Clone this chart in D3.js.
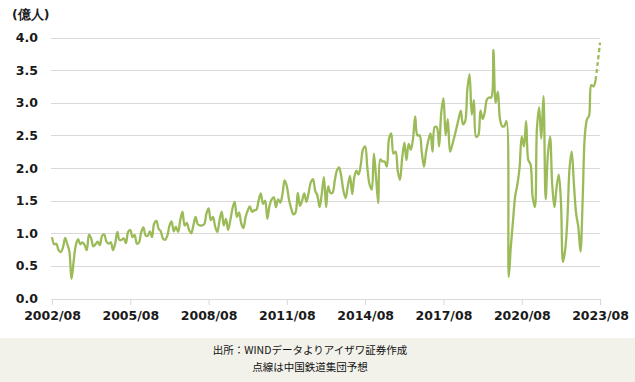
<!DOCTYPE html>
<html>
<head>
<meta charset="utf-8">
<script src="https://cdn.jsdelivr.net/npm/d3@7/dist/d3.min.js"></script>
<style>
  body { margin: 0; background: #fff; }
  text { font-family: "DejaVu Sans", Verdana, sans-serif; }
  .note { font-family: "Noto Sans CJK JP", sans-serif; }
</style>
</head>
<body>
<div id="chart"></div>
<script>
// monthly railway passengers (100m), 2002/08 .. 2023/06
var firstMonth = "2002/08";
var actual = [
  0.94, 0.83, 0.84, 0.74, 0.71, 0.78, 0.93, 0.84, 0.72, 0.30, 0.58, 0.82,
  0.91, 0.83, 0.86, 0.82, 0.74, 0.98, 0.92, 0.80, 0.83, 0.87, 0.82, 0.96,
  0.98, 0.87, 0.84, 0.86, 0.74, 0.84, 1.02, 0.90, 0.90, 0.92, 0.85, 1.02,
  1.05, 0.94, 0.97, 0.84, 0.86, 1.02, 1.09, 0.97, 0.96, 1.03, 0.94, 1.15,
  1.19, 1.07, 1.03, 0.92, 0.90, 0.96, 1.12, 1.18, 1.03, 1.10, 1.02, 1.20,
  1.33, 1.12, 1.16, 1.05, 1.00, 1.12, 1.25, 1.14, 1.12, 1.12, 1.14, 1.30,
  1.38, 1.20, 1.25, 1.10, 1.02, 1.20, 1.33, 1.12, 1.22, 1.05, 1.20, 1.38,
  1.48, 1.25, 1.32, 1.15, 1.08, 1.25, 1.35, 1.41, 1.33, 1.35, 1.36, 1.50,
  1.61, 1.45, 1.50, 1.22, 1.42, 1.52, 1.55, 1.40, 1.52, 1.47, 1.60, 1.81,
  1.72, 1.51, 1.38, 1.29, 1.32, 1.62, 1.42, 1.50, 1.61, 1.48, 1.62, 1.78,
  1.83, 1.65, 1.58, 1.40, 1.60, 1.86, 1.40, 1.72, 1.62, 1.62, 1.80, 1.96,
  2.01, 1.87, 1.65, 1.54, 1.72, 1.88, 1.60, 1.85, 1.96, 1.90, 2.05, 2.28,
  2.33, 2.00, 1.75, 1.67, 2.22, 1.85, 1.46, 2.13, 2.10, 2.10, 2.02, 2.45,
  2.53, 2.22, 2.25, 1.95, 1.82, 2.15, 2.39, 2.12, 2.37, 2.28, 2.45, 2.79,
  2.50, 2.50, 2.25, 2.02, 2.25, 2.42, 2.53, 2.25, 2.63, 2.62, 2.33, 2.85,
  3.07, 2.50, 2.75, 2.25, 2.35, 2.48, 2.62, 2.75, 2.88, 2.67, 2.72, 3.20,
  3.44, 2.82, 3.04, 2.48, 2.50, 2.88, 2.75, 2.85, 3.05, 3.08, 3.08, 3.81,
  3.00, 3.17, 2.75, 2.64, 2.64, 2.72, 0.33, 0.80, 1.20, 1.57, 1.75, 2.00,
  2.48, 2.33, 2.72, 2.12, 2.06, 1.55, 1.40, 2.60, 2.93, 2.45, 3.10, 1.52,
  2.20, 2.48, 1.75, 1.40, 1.70, 1.90, 1.47, 0.56, 0.75, 1.20, 2.00, 2.25,
  1.75, 1.30, 1.10, 0.72, 1.50, 2.50, 2.75, 2.80, 3.27, 3.25, 3.35
];
// China Railway forecast, 2023/06 .. 2023/08 (dotted)
var forecast = [3.35, 3.62, 3.92];

var yTicks = [0, 0.5, 1.0, 1.5, 2.0, 2.5, 3.0, 3.5, 4.0];
var xTickLabels = ["2002/08", "2005/08", "2008/08", "2011/08", "2014/08", "2017/08", "2020/08", "2023/08"];
var unitLabel = "(億人)";
var notes = ["出所：WINDデータよりアイザワ証券作成", "点線は中国鉄道集団予想"];

var width = 635, height = 382;
var parse = d3.timeParse("%Y/%m");
var t0 = parse(firstMonth);

var actualData = actual.map(function(v, i) { return { date: d3.timeMonth.offset(t0, i), value: v }; });
var fcData = forecast.map(function(v, i) { return { date: d3.timeMonth.offset(t0, actual.length - 1 + i), value: v }; });

var x = d3.scaleTime()
    .domain([t0, parse(xTickLabels[xTickLabels.length - 1])])
    .range([52, 600]);

var y = d3.scaleLinear()
    .domain([0, 4])
    .range([298.5, 37.5]);

var svg = d3.select("#chart").append("svg")
    .attr("width", width)
    .attr("height", height);

// note band at bottom
svg.append("rect")
    .attr("x", 0).attr("y", 338)
    .attr("width", width).attr("height", height - 338)
    .attr("fill", "#f2f2eb");

svg.selectAll(".note")
    .data(notes)
    .enter().append("text")
    .attr("class", "note")
    .attr("x", 310)
    .attr("y", function(d, i) { return 354 + i * 17; })
    .attr("text-anchor", "middle")
    .attr("font-size", 10.5)
    .attr("fill", "#111")
    .text(function(d) { return d; });

// grid
svg.append("g")
    .selectAll("line")
    .data(yTicks.filter(function(d) { return d > 0; }))
    .enter().append("line")
    .attr("x1", 51).attr("x2", 600)
    .attr("y1", function(d) { return Math.round(y(d)) + 0.5; })
    .attr("y2", function(d) { return Math.round(y(d)) + 0.5; })
    .attr("stroke", "#d9d9d9");

// y labels
svg.append("g")
    .selectAll("text")
    .data(yTicks)
    .enter().append("text")
    .attr("x", 38)
    .attr("y", function(d) { return y(d); })
    .attr("dy", "0.36em")
    .attr("text-anchor", "end")
    .attr("font-size", 12.5)
    .attr("font-weight", "bold")
    .attr("fill", "#1a1a1a")
    .text(function(d) { return d.toFixed(1); });

svg.append("text")
    .attr("x", 12).attr("y", 19)
    .attr("font-size", 12.5)
    .attr("font-weight", "bold")
    .attr("fill", "#1a1a1a")
    .text(unitLabel);

// x axis
var xAxis = d3.axisBottom(x)
    .tickValues(xTickLabels.map(parse))
    .tickSize(6)
    .tickFormat(d3.timeFormat("%Y/%m"));

var gx = svg.append("g")
    .attr("transform", "translate(0,299)")
    .call(xAxis);
gx.select(".domain").attr("stroke", "#d9d9d9").attr("d", "M51.5,0.5H600.5");
gx.selectAll(".tick line").attr("stroke", "#d9d9d9");
gx.selectAll(".tick text")
    .attr("y", 12)
    .attr("font-size", 12.5)
    .attr("font-weight", "bold")
    .attr("font-family", "DejaVu Sans, Verdana, sans-serif")
    .attr("fill", "#1a1a1a");

// lines
var line = d3.line()
    .x(function(d) { return x(d.date); })
    .y(function(d) { return y(d.value); })
    .curve(d3.curveCatmullRom.alpha(0.5));

svg.append("path")
    .datum(actualData)
    .attr("fill", "none")
    .attr("stroke", "#9bbb59")
    .attr("stroke-width", 2.3)
    .attr("stroke-linejoin", "round")
    .attr("d", line);

svg.append("path")
    .datum(fcData)
    .attr("fill", "none")
    .attr("stroke", "#9bbb59")
    .attr("stroke-width", 2.3)
    .attr("stroke-dasharray", "4,3")
    .attr("d", line);
</script>
</body>
</html>
